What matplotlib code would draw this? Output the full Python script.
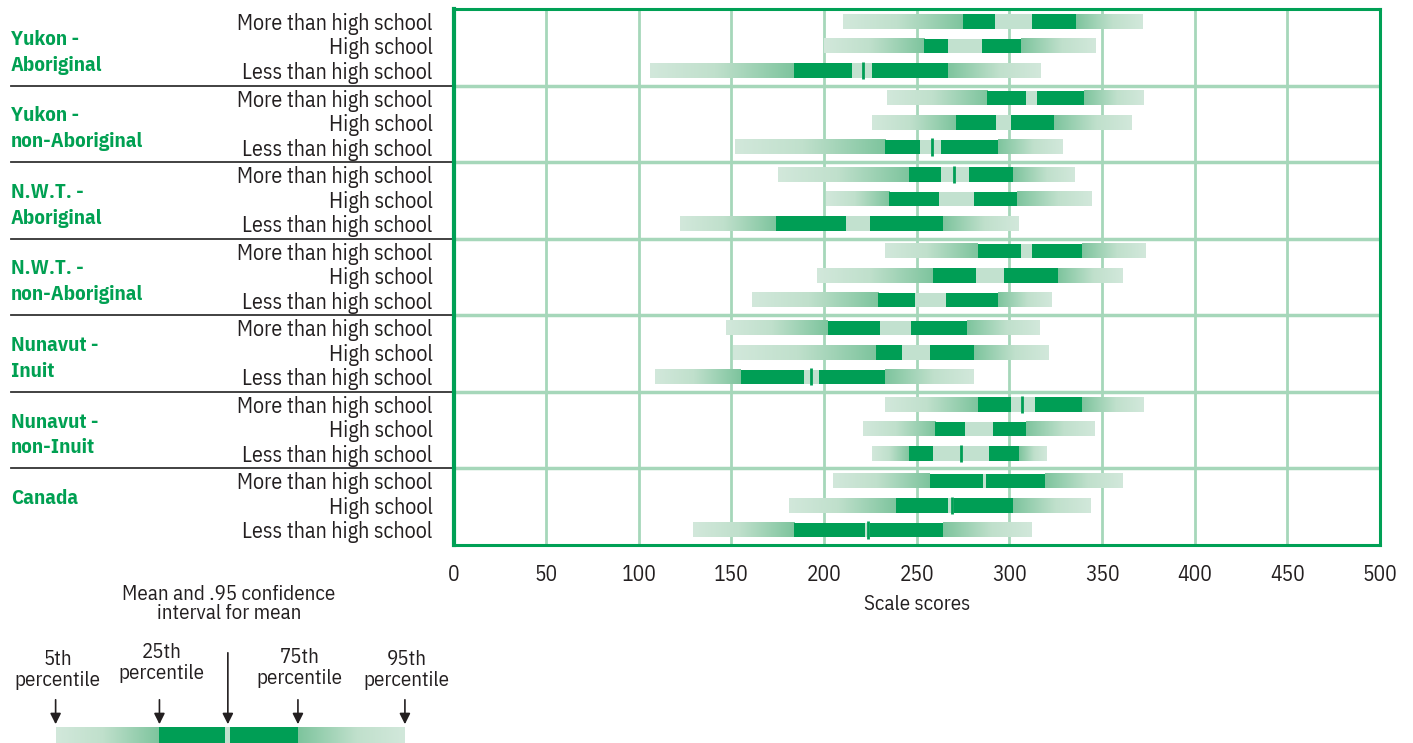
import numpy as np
import matplotlib.pyplot as plt
from matplotlib.colors import LinearSegmentedColormap
from matplotlib.patches import Rectangle

# data (scale scores)
groups = ["Yukon -\nAboriginal", "Yukon -\nnon-Aboriginal", "N.W.T. -\nAboriginal",
          "N.W.T. -\nnon-Aboriginal", "Nunavut -\nInuit", "Nunavut -\nnon-Inuit", "Canada"]
levels = ["More than high school", "High school", "Less than high school"]

p5 = [210, 200, 106, 234, 226, 152, 175, 201, 122, 233, 196, 161,
      147, 151, 109, 233, 221, 226, 205, 181, 129]
p25 = [275, 254, 184, 288, 271, 233, 246, 235, 174, 283, 259, 229,
       202, 228, 155, 283, 260, 246, 257, 239, 184]
ci_lo = [292, 267, 215, 309, 293, 252, 263, 262, 212, 306, 282, 249,
         230, 242, 189, 301, 276, 259, 285.5, 267, 222]
ci_hi = [312, 285, 226, 315, 301, 263, 278, 281, 225, 312, 297, 266,
         247, 257, 197, 314, 291, 289, 287.5, 270, 225]
p75 = [336, 306, 267, 340, 324, 294, 302, 304, 264, 339, 326, 294,
       277, 281, 233, 339, 309, 305, 319, 302, 264]
p95 = [372, 346, 317, 372, 366, 329, 335, 344, 305, 373, 361, 323,
       316, 321, 281, 372, 346, 320, 361, 344, 312]
mean = [np.nan, np.nan, 221, np.nan, np.nan, 258, 270, np.nan, np.nan, np.nan, np.nan, np.nan,
        np.nan, np.nan, 193, 307, np.nan, 274, np.nan, 268.8, 223.5]

xticks = [0, 50, 100, 150, 200, 250, 300, 350, 400, 450, 500]

# legend key (schematic values)
key_vals = [30, 86, 121.5, 124.3, 160.7, 218.4]
key_labels = ["5th\npercentile", "25th\npercentile", "75th\npercentile", "95th\npercentile"]

DARK = '#009e55'
CI = '#c2e1cf'
GRID = '#a6d7ba'
SPINE = '#00a055'
GTXT = '#00a052'
TXT = '#231f20'
FONT = ['IBM Plex Sans Condensed', 'DejaVu Sans']

plt.rcParams['font.family'] = FONT
grad = LinearSegmentedColormap.from_list('g', [(0, '#d2e8db'), (0.45, '#c0e0cc'), (1, '#7dc49d')])
ramp = np.linspace(0, 1, 256).reshape(1, -1)


def draw_box(ax, y, h, v, m=np.nan):
    a, b, c, d, e, f = v
    ax.imshow(ramp, cmap=grad, extent=(a, b, y + h / 2, y - h / 2), aspect='auto', zorder=2)
    ax.imshow(ramp[:, ::-1], cmap=grad, extent=(e, f, y + h / 2, y - h / 2), aspect='auto', zorder=2)
    ax.add_patch(Rectangle((b, y - h / 2), c - b, h, color=DARK, lw=0, zorder=3))
    ax.add_patch(Rectangle((c, y - h / 2), d - c, h, color=CI, lw=0, zorder=3))
    ax.add_patch(Rectangle((d, y - h / 2), e - d, h, color=DARK, lw=0, zorder=3))
    if not np.isnan(m):
        ax.vlines(m, y - h / 2 - 0.06, y + h / 2 + 0.06, color=DARK, lw=2, zorder=4)


fig = plt.figure(figsize=(14.13, 7.43), dpi=100)
ax = fig.add_axes([453.5 / 1413, 1 - 545 / 743, (1380 - 453.5) / 1413, 536 / 743])

G = 3.125  # height of a group, in row units
H = 0.59
ypos = []
for g in range(len(groups)):
    for k in range(3):
        ypos.append(g * G + 0.51 + k)

for i, y in enumerate(ypos):
    draw_box(ax, y, H, [p5[i], p25[i], ci_lo[i], ci_hi[i], p75[i], p95[i]], mean[i])

ax.set_xlim(0, 500)
ax.set_ylim(len(groups) * G, 0)
for x in xticks[1:-1]:
    ax.axvline(x, color=GRID, lw=2, zorder=1)
for g in range(1, len(groups)):
    ax.axhline(g * G, color=GRID, lw=2.5, zorder=1)

for s in ax.spines.values():
    s.set_color(SPINE)
    s.set_linewidth(2.2)
ax.spines['left'].set_linewidth(3)

ax.set_xticks(xticks)
ax.set_yticks([])
ax.tick_params(axis='x', length=0, pad=14, labelsize=15.5, labelcolor=TXT)
ax.set_xlabel("Scale scores", fontsize=15, color=TXT, labelpad=6)

tr = ax.get_yaxis_transform()
for i, y in enumerate(ypos):
    ax.text(-0.0225, y + 0.1, levels[i % 3], transform=tr, ha='right', va='center',
            fontsize=15.8, color=TXT, clip_on=False)
for g, name in enumerate(groups):
    yc = g * G + 1.76 if '\n' in name else g * G + 1.24
    ax.text(-0.478, yc, name, transform=tr, ha='left', va='center', fontsize=15,
            fontweight='bold', color=GTXT, linespacing=1.45, clip_on=False)
    if g > 0:
        ax.plot([-0.478, 0], [g * G, g * G], transform=tr, color='#333333', lw=1.3,
                clip_on=False)

# legend key at bottom left
lax = fig.add_axes([0, 0, 460 / 1413, 163 / 743])
lax.set_xlim(0, 460 / 1.854)
lax.set_ylim(743, 580)
lax.axis('off')
draw_box(lax, 735, 16, key_vals)

arrow_x = [key_vals[0], key_vals[1], key_vals[4], key_vals[5]]
label_y = [670, 663, 668, 670]
for x, lab, ly in zip(arrow_x, key_labels, label_y):
    lax.annotate('', xy=(x, 727), xytext=(x, 697),
                 arrowprops=dict(arrowstyle='-|>', color=TXT, lw=1.2, mutation_scale=16))
    lax.text(x + 1, ly, lab, ha='center', va='center', fontsize=15, color=TXT, linespacing=1.1)
mx = (key_vals[2] + key_vals[3]) / 2
lax.annotate('', xy=(mx, 727), xytext=(mx, 650),
             arrowprops=dict(arrowstyle='-|>', color=TXT, lw=1.2, mutation_scale=16))
lax.text(mx + 0.5, 604, "Mean and .95 confidence\ninterval for mean", ha='center', va='center',
         fontsize=15, color=TXT, linespacing=1.05)

fig.savefig('out.png', dpi=100)
